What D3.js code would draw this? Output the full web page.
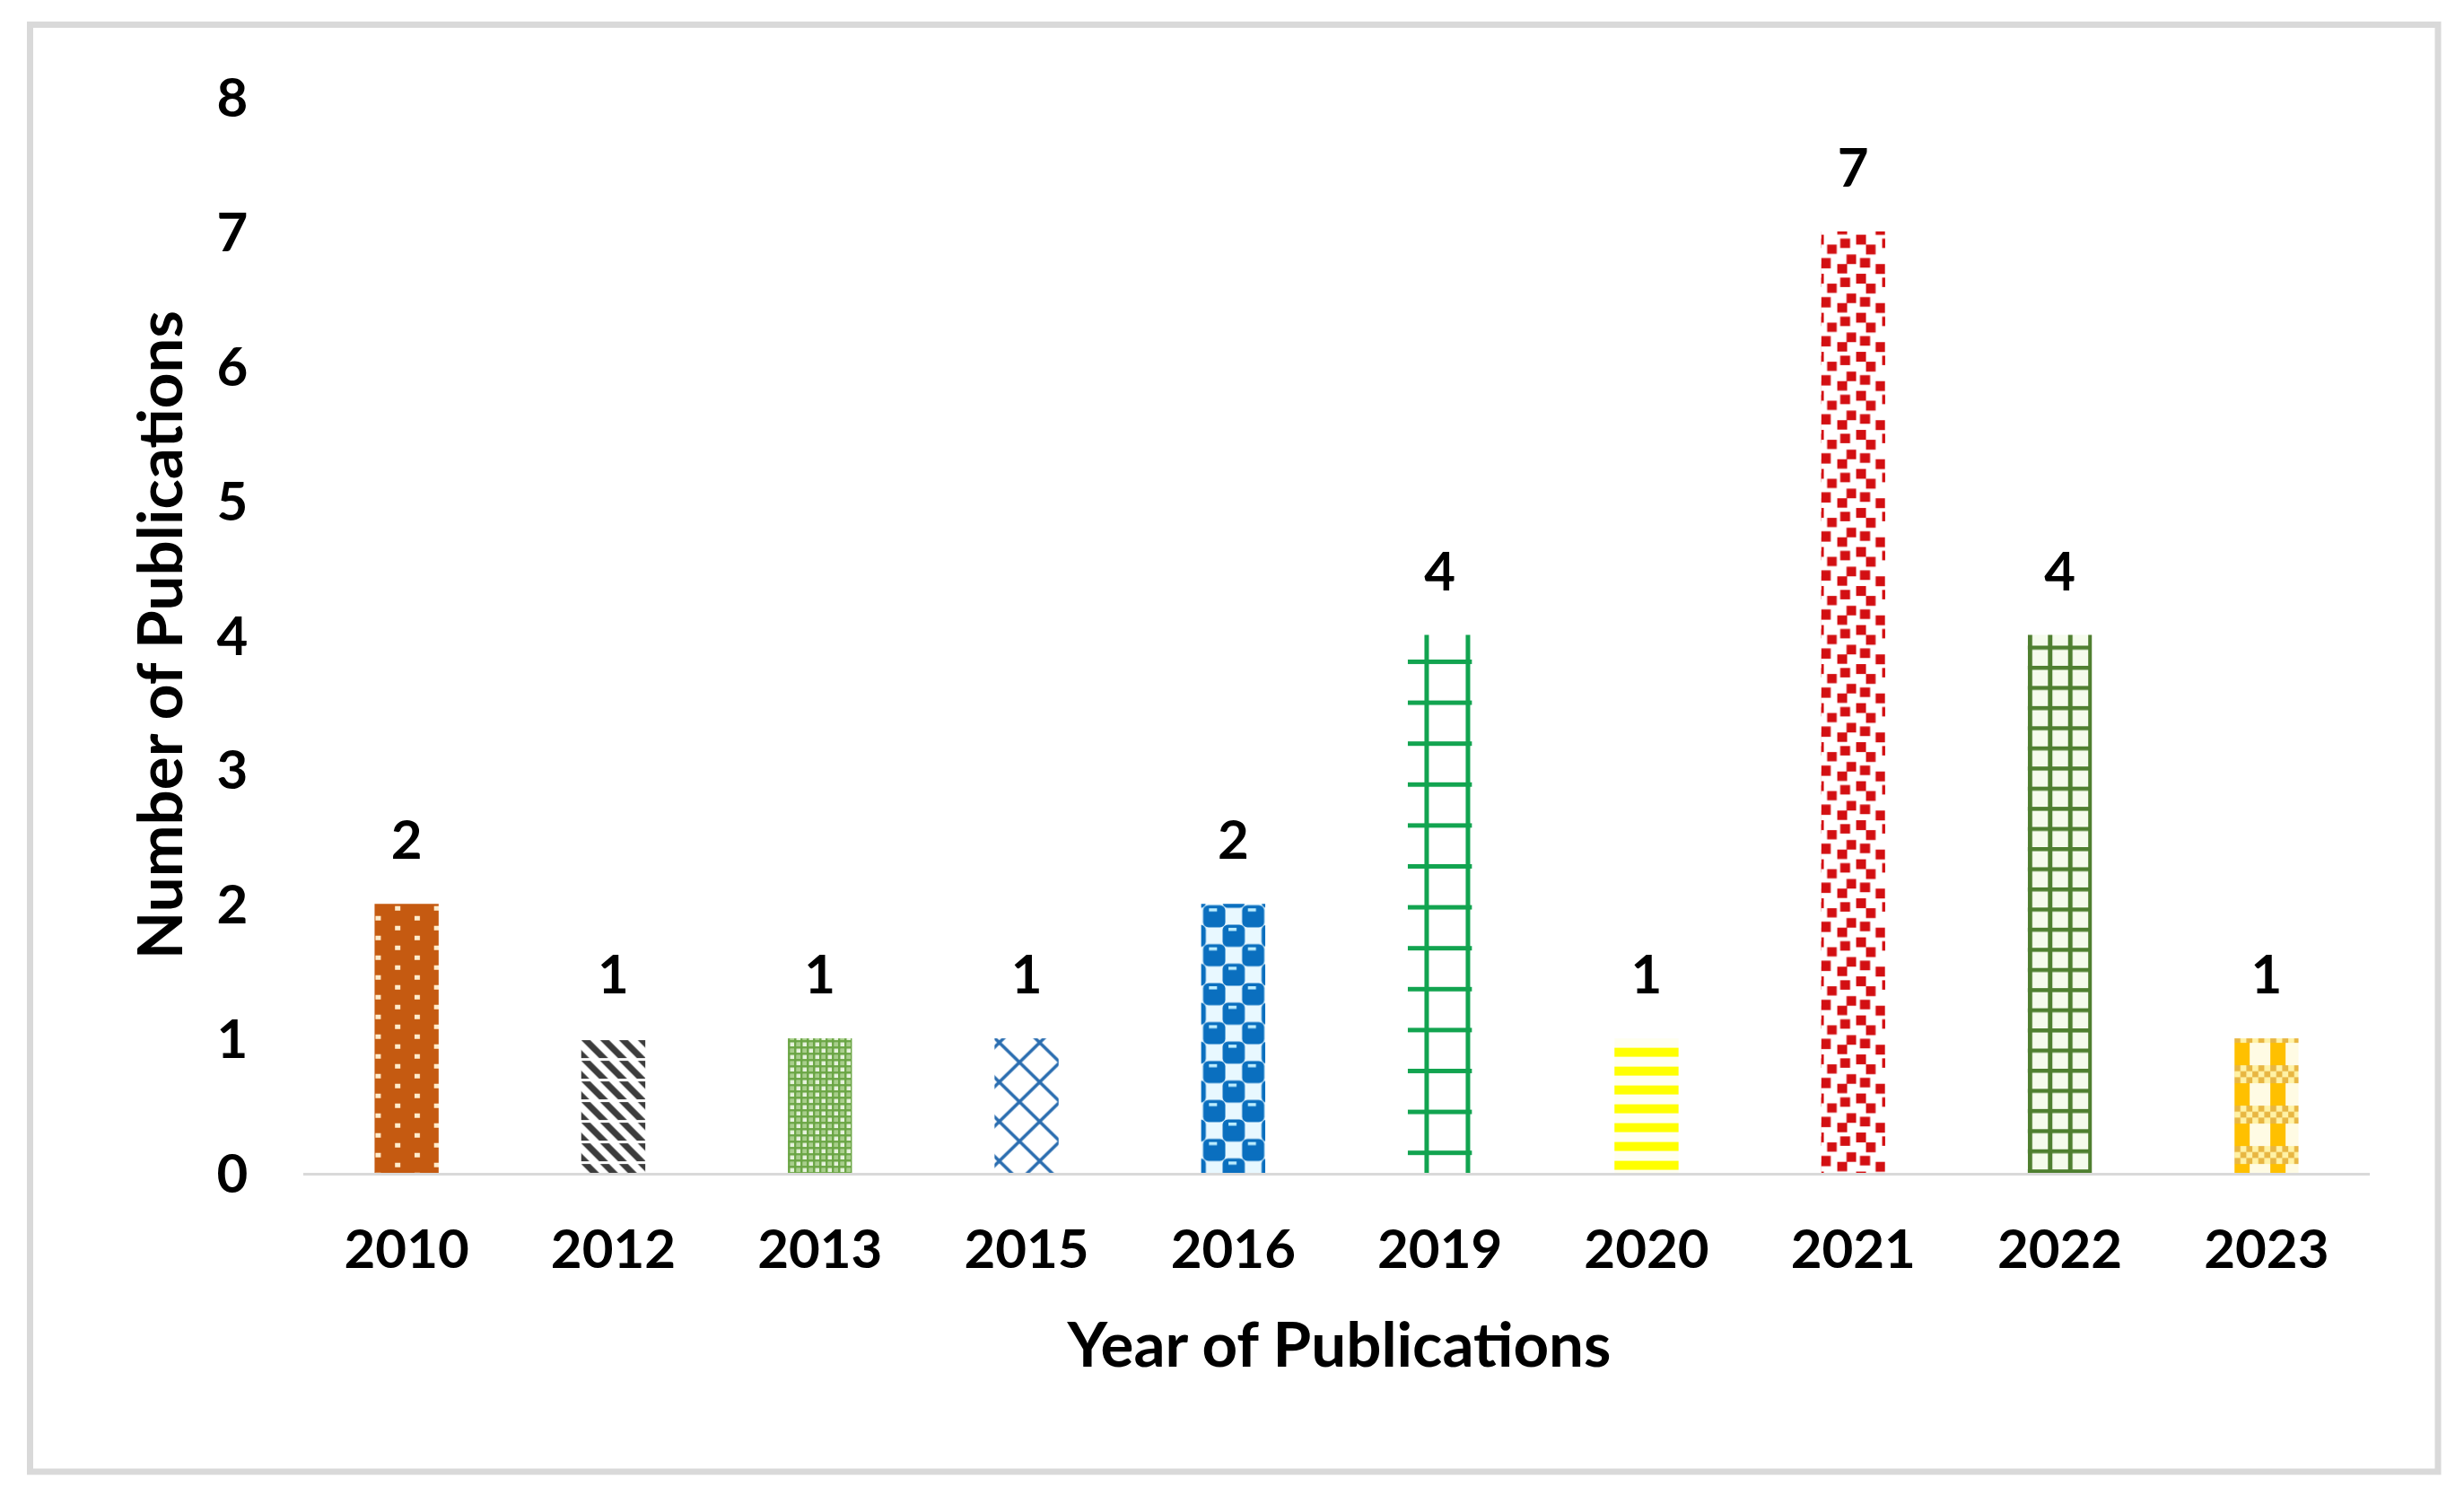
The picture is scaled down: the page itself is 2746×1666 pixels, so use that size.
<!DOCTYPE html>
<html><head><meta charset="utf-8">
<script src="https://cdn.jsdelivr.net/npm/d3@7"></script>
<style>body{margin:0;background:#fff;overflow:hidden}</style>
</head><body>
<svg id="c" width="2746" height="1666"></svg>
<script>
const years = ["2010","2012","2013","2015","2016","2019","2020","2021","2022","2023"];
const publications = [2,1,1,1,2,4,1,7,4,1];
const yTicks = [0,1,2,3,4,5,6,7,8];
const xTitle = "Year of Publications";
const yTitle = "Number of Publications";

const W = 2746, H = 1666;
const FONT = "Lato, 'Open Sans', sans-serif";
const svg = d3.select("#c");
svg.append("rect").attr("width", W).attr("height", H).attr("fill", "#fff");
svg.append("rect").attr("x", 33.5).attr("y", 27.5).attr("width", 2683.5).attr("height", 1612.5)
  .attr("fill", "none").attr("stroke", "#d9d9d9").attr("stroke-width", 7);

const x = d3.scaleBand().domain(years).range([338, 2641]).paddingInner(0.69).paddingOuter(0.345);
const y = d3.scaleLinear().domain([0, 8]).range([1307, 108]);

const defs = svg.append("defs");

function mkPattern(id, ox, oy, w, h) {
  return defs.append("pattern").attr("id", id).attr("patternUnits", "userSpaceOnUse")
    .attr("x", ox).attr("y", oy).attr("width", w).attr("height", h);
}
function rect(g, a, b, c, d, fill, rx) {
  const r = g.append("rect").attr("x", a).attr("y", b).attr("width", c).attr("height", d).attr("fill", fill);
  if (rx) r.attr("rx", rx);
  return r;
}

const builders = [
  // 2010 orange with cream dots
  (id, bx, by) => {
    const p = mkPattern(id, bx + 1, by + 13.5, 43.5, 22);
    rect(p, 0, 0, 43.5, 22, "#c55a11");
    rect(p, 0, 0, 6, 5, "#ffeccc");
    rect(p, 21.75, 11, 6, 5, "#ffeccc");
  },
  // 2012 dark dashed downward diagonal
  (id, bx, by) => {
    const w = 21, h = 23;
    const p = mkPattern(id, bx, by + 2, w, h);
    rect(p, 0, 0, w, h, "#ffffff");
    for (let k = -2; k <= 1; k++) {
      p.append("polygon").attr("fill", "#3c3c3c")
        .attr("points", [[k*w,0],[k*w+10,0],[k*w+30,20],[k*w+20,20]].map(d => d.join(",")).join(" "));
    }
  },
  // 2013 small green check
  (id, bx, by) => {
    const s = 7;
    const p = mkPattern(id, bx, by + 2, 2*s, 2*s);
    rect(p, 0, 0, 2*s, 2*s, "#e8f3df");
    rect(p, s + 2.5, 2.5, s - 2.5, s - 2.5, "#a9cf8c");
    rect(p, 2.5, s + 2.5, s - 2.5, s - 2.5, "#a9cf8c");
    rect(p, 0, 0, 2*s, 2.5, "#6aa544");
    rect(p, 0, s, 2*s, 2.5, "#6aa544");
    rect(p, 0, 0, 2.5, 2*s, "#6aa544");
    rect(p, s, 0, 2.5, 2*s, "#6aa544");
  },
  // 2015 blue diamond lattice
  (id, bx, by) => {
    const w = 45, h = 44;
    const p = mkPattern(id, bx + 5.3, by + 4.7, w, h);
    rect(p, 0, 0, w, h, "#ffffff");
    for (let i = -1; i <= 1; i++) for (let j = -1; j <= 1; j++) {
      p.append("line").attr("x1", i*w).attr("y1", j*h).attr("x2", i*w + w).attr("y2", j*h + h)
        .attr("stroke", "#2a6db0").attr("stroke-width", 3.5);
      p.append("line").attr("x1", i*w + w).attr("y1", j*h).attr("x2", i*w).attr("y2", j*h + h)
        .attr("stroke", "#2a6db0").attr("stroke-width", 3.5);
    }
  },
  // 2016 blue sphere checker
  (id, bx, by) => {
    const s = 21.7;
    const p = mkPattern(id, bx + 3.7, by + 3, 2*s, 2*s);
    rect(p, 0, 0, 2*s, 2*s, "#e8f8ff");
    [[0,0],[s,s],[2*s,0],[0,2*s],[2*s,2*s],[-s,s],[s,-s]].forEach(([a,b]) => {
      rect(p, a - 1.5, b - 1.5, s + 3, s + 3, "#0a6fbf", 6);
      rect(p, a + 5, b + 2, 9, 3.5, "#bdeeff");
    });
  },
  // 2019 large green grid
  (id, bx, by) => {
    const w = 46, h = 45.6;
    const p = mkPattern(id, bx + 18.5, by + 27.5, w, h);
    rect(p, 0, 0, w, h, "#ffffff");
    rect(p, 0, 0, w, 5, "#12a450");
    rect(p, 0, 0, 5, h, "#12a450");
  },
  // 2020 yellow horizontal stripes
  (id, bx, by) => {
    const p = mkPattern(id, bx, by + 10.5, 10, 21);
    rect(p, 0, 0, 10, 21, "#fffff0");
    rect(p, 0, 0, 10, 10, "#ffff00");
  },
  // 2021 red confetti
  (id, bx, by) => {
    const w = 72, h = 43.5;
    const p = mkPattern(id, bx, by + 3.7, w, h);
    rect(p, 0, 0, w, h, "#ffffff");
    [[-8,0,11,11],[6.7,11,10.7,10.3],[21.3,4.3,11,10.5],[39,0,11,11],[50,11,10.7,11],[68,4.3,11,10.5],
     [0,26,10.7,11.5],[18,32.7,11,10.5],[28.3,22,10.7,10.7],[43.3,26,11.3,10.7],[60.7,32.7,10.7,11]]
      .forEach(([a,b,c,d]) => { rect(p, a, b, c, d, "#d30f12"); if (b + d > h) rect(p, a, b - h, c, d, "#d30f12"); });
  },
  // 2022 dark green small grid
  (id, bx, by) => {
    const s = 22.45;
    const p = mkPattern(id, bx, by + 12, s, s);
    rect(p, 0, 0, s, s, "#f5fbec");
    rect(p, 0, 0, s, 4.5, "#4f7f30");
    rect(p, 0, 0, 5, s, "#4f7f30");
  },
  // 2023 gold plaid
  (id, bx, by) => {
    const w = 40, h = 45;
    const p = mkPattern(id, bx, by + 5, w, h);
    rect(p, 0, 0, w, h, "#fff2a6");
    rect(p, 0, 0, 17, 25, "#ffc000");
    rect(p, 17, 0, 23, 25, "#fffbe4");
    const c = 40 / 6;
    for (let r = 0; r < 3; r++) for (let k = 0; k < 6; k++) {
      if ((r + k) % 2 === 0) rect(p, k*c, 25 + r*c, c, c, "#e8b642");
    }
  }
];

// bars
const bars = svg.append("g");
years.forEach((yr, i) => {
  builders[i]("pat" + i, x(yr), y(publications[i]));
});
bars.selectAll("rect").data(years).join("rect")
  .attr("x", d => x(d))
  .attr("y", (d, i) => y(publications[i]))
  .attr("width", x.bandwidth())
  .attr("height", (d, i) => y(0) - y(publications[i]))
  .attr("fill", (d, i) => `url(#pat${i})`);

// baseline axis
const xAxis = svg.append("g").attr("transform", `translate(0,${y(0)})`)
  .call(d3.axisBottom(x).tickSize(0).tickPadding(0));
xAxis.select(".domain").attr("stroke", "#d9d9d9").attr("stroke-width", 3)
  .attr("d", `M${x.range()[0]},1.5H${x.range()[1]}`);
xAxis.selectAll(".tick text").attr("y", 106).attr("dy", null)
  .attr("font-family", FONT).attr("font-weight", 700).attr("font-size", 60).attr("fill", "#000");

// y axis labels (no line)
const yAxis = svg.append("g").attr("transform", `translate(259,0)`)
  .call(d3.axisLeft(y).tickValues(yTicks).tickSize(0).tickPadding(0).tickFormat(d3.format("d")));
yAxis.select(".domain").remove();
yAxis.selectAll(".tick text").attr("text-anchor", "middle").attr("x", 0).attr("dy", "0.36em")
  .attr("font-family", FONT).attr("font-weight", 700).attr("font-size", 60).attr("fill", "#000");

// value labels
svg.append("g").selectAll("text").data(years).join("text")
  .attr("x", d => x(d) + x.bandwidth() / 2)
  .attr("y", (d, i) => y(publications[i]) - 50)
  .attr("text-anchor", "middle")
  .attr("font-family", FONT).attr("font-weight", 700).attr("font-size", 60).attr("fill", "#000")
  .text((d, i) => publications[i]);

// titles
function fitText(sel, target) {
  const len = sel.node().getComputedTextLength();
  const fs = parseFloat(sel.attr("font-size"));
  sel.attr("font-size", (fs * target / len).toFixed(2));
}
const xt = svg.append("text").attr("x", (x.range()[0] + x.range()[1]) / 2 + 3).attr("y", 1523)
  .attr("text-anchor", "middle").attr("font-family", FONT).attr("font-weight", 700)
  .attr("font-size", 64).attr("fill", "#000").text(xTitle);
fitText(xt, 606);
const yt = svg.append("text").attr("transform", `translate(203,${(y(0) + y(8)) / 2}) rotate(-90)`)
  .attr("text-anchor", "middle").attr("font-family", FONT).attr("font-weight", 700)
  .attr("font-size", 64).attr("fill", "#000").text(yTitle);
fitText(yt, 723);
</script>
</body></html>
